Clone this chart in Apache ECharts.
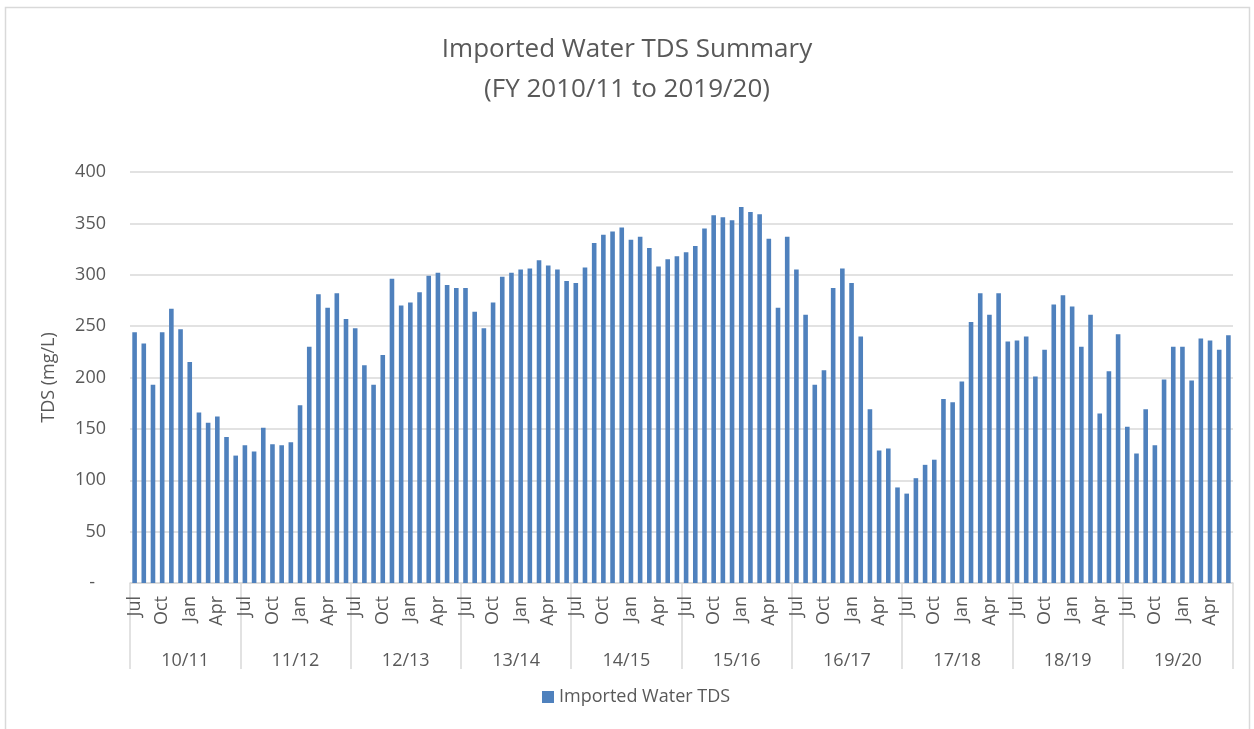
<!DOCTYPE html>
<html>
<head>
<meta charset="utf-8">
<title>Imported Water TDS Summary</title>
<script src="https://cdn.jsdelivr.net/npm/echarts@6/dist/echarts.min.js"></script>
<style>
  html, body { margin: 0; padding: 0; background: #ffffff; }
  #chart { width: 1254px; height: 729px; }
</style>
</head>
<body>
<div id="chart"></div>
<script>
// Month labels for each fiscal year (July to June)
const fyMonths = ['Jul', 'Aug', 'Sep', 'Oct', 'Nov', 'Dec', 'Jan', 'Feb', 'Mar', 'Apr', 'May', 'Jun'];

// Fiscal years shown on the second axis row
const fiscalYears = ['10/11', '11/12', '12/13', '13/14', '14/15', '15/16', '16/17', '17/18', '18/19', '19/20'];

// Monthly imported water TDS (mg/L), FY 2010/11 through FY 2019/20
const tds1011 = [244, 233, 193, 244, 267, 247, 215, 166, 156, 162, 142, 124];
const tds1112 = [134, 128, 151, 135, 134, 137, 173, 230, 281, 268, 282, 257];
const tds1213 = [248, 212, 193, 222, 296, 270, 273, 283, 299, 302, 290, 287];
const tds1314 = [287, 264, 248, 273, 298, 302, 305, 306, 314, 309, 305, 294];
const tds1415 = [292, 307, 331, 339, 342, 346, 334, 337, 326, 308, 315, 318];
const tds1516 = [322, 328, 345, 358, 356, 353, 366, 361, 359, 335, 268, 337];
const tds1617 = [305, 261, 193, 207, 287, 306, 292, 240, 169, 129, 131, 93];
const tds1718 = [87, 102, 115, 120, 179, 176, 196, 254, 282, 261, 282, 235];
const tds1819 = [236, 240, 201, 227, 271, 280, 269, 230, 261, 165, 206, 242];
const tds1920 = [152, 126, 169, 134, 198, 230, 230, 197, 238, 236, 227, 241];

// Y-axis ticks
const yTicks = { min: 0, max: 400, step: 50 };

const seriesName = 'Imported Water TDS';

// Flatten into one monthly sequence
const yearly = [tds1011, tds1112, tds1213, tds1314, tds1415, tds1516, tds1617, tds1718, tds1819, tds1920];
const monthCats = [];
const tdsValues = [];
yearly.forEach(function (vals) {
  vals.forEach(function (v, m) {
    monthCats.push(fyMonths[m]);
    tdsValues.push(v);
  });
});

const FONT = '"Open Sans", "Noto Sans", sans-serif';
const GREY_TEXT = '#595959';
const GREY_LINE = '#d9d9d9';

const chart = echarts.init(document.getElementById('chart'), null, { renderer: 'canvas' });

chart.setOption({
  backgroundColor: '#ffffff',
  animation: false,
  textStyle: { fontFamily: FONT },
  graphic: [{
    type: 'rect',
    silent: true,
    shape: { x: 5.5, y: 7.5, width: 1244, height: 740 },
    style: { fill: 'none', stroke: GREY_LINE, lineWidth: 1.5 }
  }],
  title: {
    text: 'Imported Water TDS Summary\n(FY 2010/11 to 2019/20)',
    left: 'center',
    top: 25,
    textStyle: {
      fontFamily: FONT,
      fontSize: 26,
      fontWeight: 'normal',
      color: GREY_TEXT,
      lineHeight: 40
    }
  },
  legend: {
    bottom: 18,
    left: 537,
    icon: 'rect',
    itemWidth: 12,
    itemHeight: 12,
    itemGap: 6,
    textStyle: { fontFamily: FONT, fontSize: 18, color: GREY_TEXT },
    data: [seriesName]
  },
  grid: { left: 130, right: 21, top: 172, bottom: 146, containLabel: false },
  xAxis: [
    {
      type: 'category',
      data: monthCats,
      position: 'bottom',
      boundaryGap: true,
      axisLine: { show: true, lineStyle: { color: GREY_LINE, width: 1.5 } },
      axisTick: { show: false },
      axisLabel: {
        rotate: 90,
        interval: function (idx) { return idx % 3 === 0; },
        margin: 13,
        fontFamily: FONT,
        fontSize: 18,
        color: GREY_TEXT
      },
      splitLine: { show: false }
    },
    {
      type: 'category',
      data: fiscalYears,
      position: 'bottom',
      boundaryGap: true,
      axisLine: { show: false },
      axisTick: {
        show: true,
        interval: 0,
        length: 86,
        lineStyle: { color: GREY_LINE, width: 1.5 }
      },
      axisLabel: {
        interval: 0,
        margin: 69,
        fontFamily: FONT,
        fontSize: 18,
        color: GREY_TEXT
      },
      splitLine: { show: false }
    }
  ],
  yAxis: {
    type: 'value',
    min: yTicks.min,
    max: yTicks.max,
    interval: yTicks.step,
    name: 'TDS (mg/L)',
    nameLocation: 'middle',
    nameGap: 72,
    nameRotate: 90,
    nameTextStyle: { fontFamily: FONT, fontSize: 18, color: GREY_TEXT },
    axisLine: { show: false },
    axisTick: { show: false },
    axisLabel: {
      margin: 24,
      fontFamily: FONT,
      fontSize: 18,
      color: GREY_TEXT,
      formatter: function (v) { return v === 0 ? '{dash|-}' : String(v); },
      rich: { dash: { fontFamily: FONT, fontSize: 18, color: GREY_TEXT, padding: [0, 11, 0, 0] } }
    },
    splitLine: { show: true, lineStyle: { color: GREY_LINE, width: 1.5 } }
  },
  series: [{
    name: seriesName,
    type: 'bar',
    xAxisIndex: 0,
    data: tdsValues,
    barWidth: '50%',
    itemStyle: { color: '#4f81bd' }
  }]
});
</script>
</body>
</html>
